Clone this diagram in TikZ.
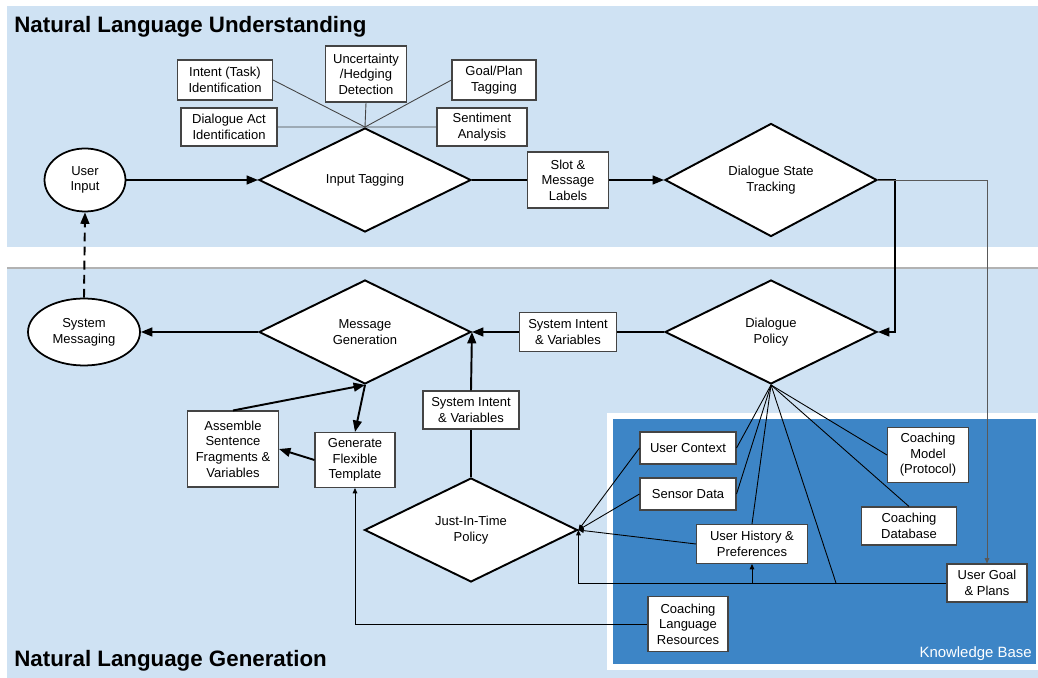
\documentclass[tikz,border=0pt]{standalone}
\usepackage{fontspec}
\setmainfont{Liberation Sans}
\usepackage{tikz}
\usetikzlibrary{arrows.meta,shapes}
\definecolor{panelblue}{HTML}{CFE2F3}
\definecolor{kbblue}{HTML}{3D85C6}
\definecolor{boxline}{HTML}{444444}

\begin{document}
\begin{tikzpicture}[x=0.02cm,y=-0.02cm,>={Triangle[length=6.5pt,width=5pt]},
                    line join=miter]
  \tikzstyle{every node}=[font=\fontsize{7.4}{8.9}\selectfont,align=center,text=black]
  \tikzstyle{box}=[draw=boxline,fill=white,line width=0.6pt,inner sep=1pt]
  \tikzstyle{kbbox}=[box,minimum width=1.92cm,minimum height=0.64cm]
  \tikzstyle{decision}=[diamond,draw=black,fill=white,line width=1.1pt,inner sep=0pt,
                        minimum width=4.24cm,minimum height=2.08cm]
  \tikzstyle{terminal}=[ellipse,draw=black,fill=white,line width=1pt,inner sep=0pt]
  \tikzstyle{flow}=[->,line width=1.1pt]
  \tikzstyle{thinarrow}=[-{Triangle[length=3pt,width=2.6pt]},line width=0.5pt]
  \tikzstyle{title}=[font=\fontsize{12.7}{15}\selectfont\bfseries,anchor=base west,inner sep=0pt]

  \useasboundingbox (0,0) rectangle (1038,678);
  % panels
  \fill[panelblue] (7,6) rectangle (1038,247);
  \fill[panelblue] (7,268) rectangle (1038,678);
  \draw[gray!60,line width=0.6pt] (7,268) -- (1038,268);
  \fill[white] (607,413) rectangle (1038,670);
  \fill[kbblue] (613,419) rectangle (1036,664);

  \node[title] (nlu) at (14,33) {Natural Language Understanding};
  \node[title] (nlg) at (14,666) {Natural Language Generation};
  \node[font=\fontsize{8.5}{10}\selectfont,text=white,anchor=base east,inner sep=0pt] (kb) at (1032,657) {Knowledge Base};

  % understanding
  \node[terminal,minimum width=1.62cm,minimum height=1.26cm] (ui) at (85,180) {User\\Input};
  \node[decision] (tag) at (365,180) {Input Tagging};
  \node[box,minimum width=1.9cm,minimum height=0.8cm]  (intent) at (225,80)  {Intent (Task)\\Identification};
  \node[box,minimum width=1.62cm,minimum height=1.12cm](uncert) at (366,74)  {Uncertainty\\/Hedging\\Detection};
  \node[box,minimum width=1.68cm,minimum height=0.8cm] (goal)   at (494,80)  {Goal/Plan\\Tagging};
  \node[box,minimum width=1.92cm,minimum height=0.76cm](act)    at (229,127) {Dialogue Act\\Identification};
  \node[box,minimum width=1.8cm,minimum height=0.76cm] (senti)  at (482,127) {Sentiment\\Analysis};
  \node[box,minimum width=1.62cm,minimum height=1.12cm](slot)   at (568,180) {Slot \&\\Message\\Labels};
  \node[decision] (dst) at (771,180) {Dialogue State\\Tracking};

  % generation
  \node[decision] (dp) at (771,332) {Dialogue\\Policy};
  \node[box,minimum width=1.94cm,minimum height=0.78cm](sysint) at (568,332) {System Intent\\\& Variables};
  \node[decision] (msg) at (365,332) {Message\\Generation};
  \node[terminal,minimum width=2.24cm,minimum height=1.34cm] (sm) at (84,332) {System\\Messaging};
  \node[box,minimum width=1.92cm,minimum height=0.76cm](jitint) at (471,410) {System Intent\\\& Variables};
  \node[decision,minimum width=4.26cm] (jit) at (471,530) {Just-In-Time\\Policy};
  \node[box,minimum width=1.82cm,minimum height=1.52cm](assemble) at (233,449) {Assemble\\Sentence\\Fragments \&\\Variables};
  \node[box,minimum width=1.6cm,minimum height=1.1cm]  (templ)  at (355,460) {Generate\\Flexible\\Template};

  % knowledge base
  \node[kbbox] (context) at (688,448) {User Context};
  \node[kbbox] (sensor)  at (688,494) {Sensor Data};
  \node[box,minimum width=1.62cm,minimum height=1.1cm] (model)   at (928,455) {Coaching\\Model\\(Protocol)};
  \node[box,minimum width=1.9cm,minimum height=0.76cm] (dbase)   at (909,526) {Coaching\\Database};
  \node[box,minimum width=2.22cm,minimum height=0.78cm](history) at (752,544) {User History \&\\Preferences};
  \node[box,minimum width=1.6cm,minimum height=0.76cm] (plans)   at (987,583) {User Goal\\\& Plans};
  \node[box,minimum width=1.6cm,minimum height=1.1cm]  (langres) at (688,624) {Coaching\\Language\\Resources};
  \coordinate (kbbus) at (836,583);
  \coordinate (hjoin) at (history.south |- plans.west);

  % main flow
  \path[flow] (ui.east) edge (tag.west)
              (slot.east) edge (dst.west)
              (sysint.west) edge (msg.east)
              (jitint.north) edge (msg.east)
              (msg.west) edge (sm.east)
              (assemble.north) edge (msg.south)
              (msg.south) edge (templ.north)
              (templ.west) edge (assemble.east);
  \path[line width=1.1pt] (tag.east) edge (slot.west)
              (dp.west) edge (sysint.east)
              (jit.north) edge (jitint.south);
  \draw[flow] (dst.east) -- ++(17,0) |- (dp.east);
  \draw[flow,dashed,dash pattern=on 5pt off 3pt] (sm.north) -- (ui.south);

  % tagging spokes
  \path[color=boxline,line width=0.5pt] (intent.east) edge (tag.north)
        (uncert.south) edge (tag.north)
        (goal.west) edge (tag.north)
        (act.east) edge (tag.north)
        (senti.west) edge (tag.north);

  % knowledge base links
  \path[color=black,line width=0.5pt] (dp.south) edge (context.east)
        (dp.south) edge (sensor.east)
        (dp.south) edge (history.north)
        (dp.south) edge (kbbus)
        (dp.south) edge (dbase.north)
        (dp.south) edge (model.west);
  \path[thinarrow] (context.west) edge (jit.east)
        (sensor.west) edge (jit.east)
        (history.west) edge (jit.east)
        (hjoin) edge (history.south);
  \draw[thinarrow] (plans.west) -| (jit.east);
  \draw[thinarrow,color=black!65] (dst.east) -| (plans.north);
  \draw[thinarrow] (langres.west) -| (templ.south);
\end{tikzpicture}
\end{document}
